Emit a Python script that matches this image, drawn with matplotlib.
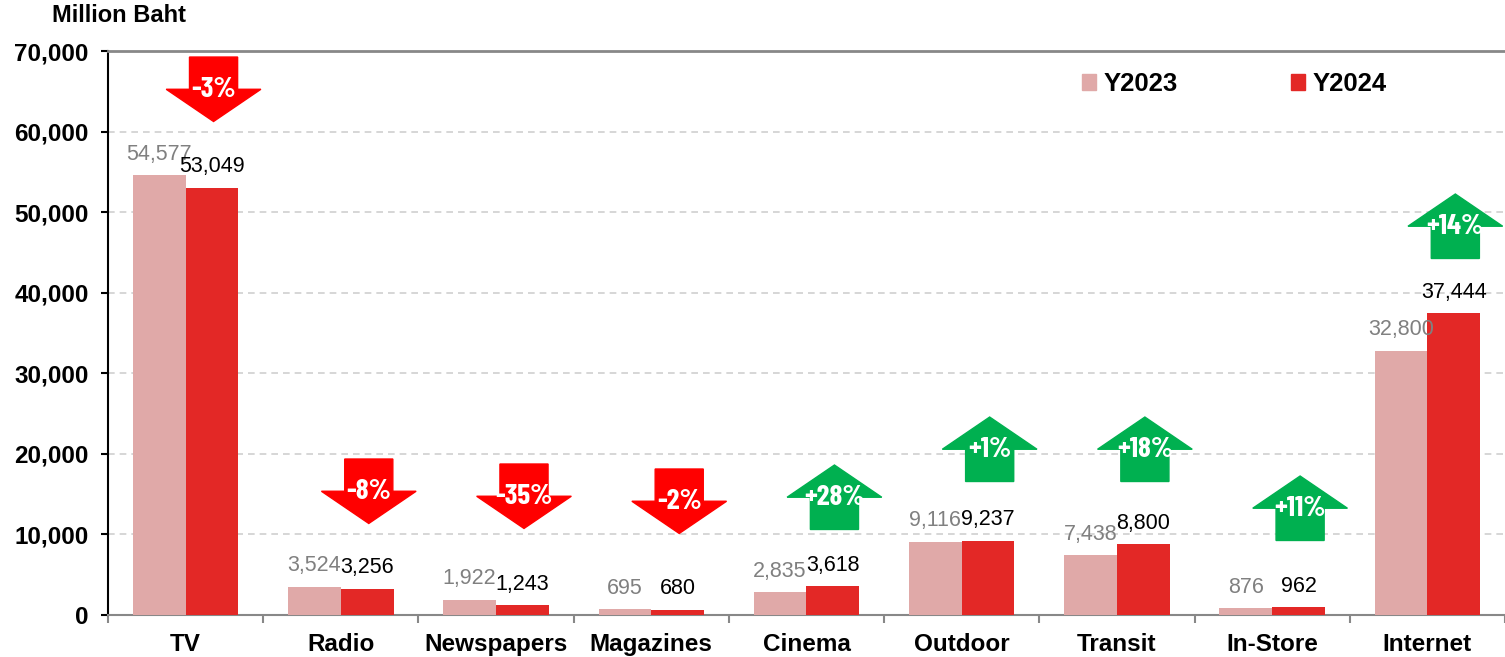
import matplotlib.pyplot as plt
from matplotlib.patches import Polygon, Patch
from matplotlib.ticker import FuncFormatter, MultipleLocator
import numpy as np

# datos del grafico
categories = ["TV", "Radio", "Newspapers", "Magazines", "Cinema",
              "Outdoor", "Transit", "In-Store", "Internet"]
y2023 = [54577, 3524, 1922, 695, 2835, 9116, 7438, 876, 32800]
y2024 = [53049, 3256, 1243, 680, 3618, 9237, 8800, 962, 37444]
changes = ["-3%", "-8%", "-35%", "-2%", "+28%", "+1%", "+18%", "+11%", "+14%"]

# posicion vertical (parte superior) de cada flecha
arrow_top = [69250, 19360, 18740, 18120, 18615, 24570, 24570, 17250, 52250]

plt.rcParams['font.family'] = ['Liberation Sans', 'DejaVu Sans']

C23 = "#E0A9A8"
C24 = "#E32826"

fig = plt.figure(figsize=(15.05, 6.57), dpi=100)
ax = fig.add_axes([108 / 1505, 1 - 615 / 657, 1 - 108 / 1505, (615 - 51) / 657])

x = np.arange(len(categories))
w = 0.34
ax.bar(x - w / 2, y2023, w, color=C23, zorder=3)
ax.bar(x + w / 2, y2024, w, color=C24, zorder=3)

# etiquetas de valores
for i in range(len(categories)):
    ax.annotate(f"{y2023[i]:,}", (x[i] - w / 2, y2023[i]), xytext=(0, 11),
                textcoords="offset points", ha="center", va="baseline",
                fontsize=15.5, color="#808080", zorder=4)
    ax.annotate(f"{y2024[i]:,}", (x[i] + w / 2, y2024[i]), xytext=(0, 11),
                textcoords="offset points", ha="center", va="baseline",
                fontsize=15.5, color="black", zorder=4)

# flechas de variacion
h = 8000
sw, hw = 0.31, 0.61
for i, label in enumerate(changes):
    cx = x[i] + 0.18
    top = arrow_top[i]
    mid = top - h / 2
    if label.startswith("-"):
        pts = [(cx - sw / 2, top), (cx + sw / 2, top), (cx + sw / 2, mid),
               (cx + hw / 2, mid), (cx, top - h), (cx - hw / 2, mid),
               (cx - sw / 2, mid)]
        col = "#FF0000"
    else:
        bot = top - h
        pts = [(cx - sw / 2, bot), (cx + sw / 2, bot), (cx + sw / 2, mid),
               (cx + hw / 2, mid), (cx, top), (cx - hw / 2, mid),
               (cx - sw / 2, mid)]
        col = "#00B050"
    ax.add_patch(Polygon(pts, closed=True, color=col, zorder=5, clip_on=False))
    ax.text(cx, mid, label, ha="center", va="center", color="white",
            fontsize=21, fontweight="bold", zorder=6,
            family=["Barlow Condensed", "DejaVu Sans"])

# ejes
ax.set_xlim(-0.5, len(categories) - 0.5)
ax.set_ylim(0, 70000)
ax.yaxis.set_major_locator(MultipleLocator(10000))
ax.yaxis.set_major_formatter(FuncFormatter(lambda v, p: f"{int(v):,}"))
ax.grid(axis="y", color="#D0D0D0", linestyle=(0, (4, 3)), lw=1.2, zorder=0)

ax.set_xticks(x)
ax.set_xticklabels(categories, fontsize=17.5, fontweight="bold")
ax.set_xticks(np.arange(-0.5, len(categories)), minor=True)
ax.tick_params(axis="x", which="major", length=0, pad=13)
ax.tick_params(axis="x", which="minor", length=6, width=1.5, color="#888888")
ax.tick_params(axis="y", length=5, width=1.5, pad=9, labelsize=17.5)
for t in ax.get_yticklabels():
    t.set_fontweight("bold")

ax.spines["right"].set_visible(False)
ax.spines["top"].set_color("#888888")
ax.spines["top"].set_linewidth(2)
ax.spines["bottom"].set_color("#888888")
ax.spines["bottom"].set_linewidth(1.5)
ax.spines["left"].set_linewidth(1.5)

handles = [Patch(color=C23, label="Y2023"), Patch(color=C24, label="Y2024")]
leg = ax.legend(handles=handles, ncol=2, frameon=False, loc="center left",
                bbox_to_anchor=(1082 / 1505, 1 - 84 / 657),
                bbox_transform=fig.transFigure, borderpad=0, borderaxespad=0,
                handlelength=0.55, handleheight=0.55, handletextpad=0.3,
                columnspacing=4.4, prop={"size": 18.5, "weight": "bold"})

fig.text(52 / 1505, 1 - 16 / 657, "Million Baht", fontsize=17,
         fontweight="bold", ha="left", va="center")

fig.savefig("out.png", dpi=100)
